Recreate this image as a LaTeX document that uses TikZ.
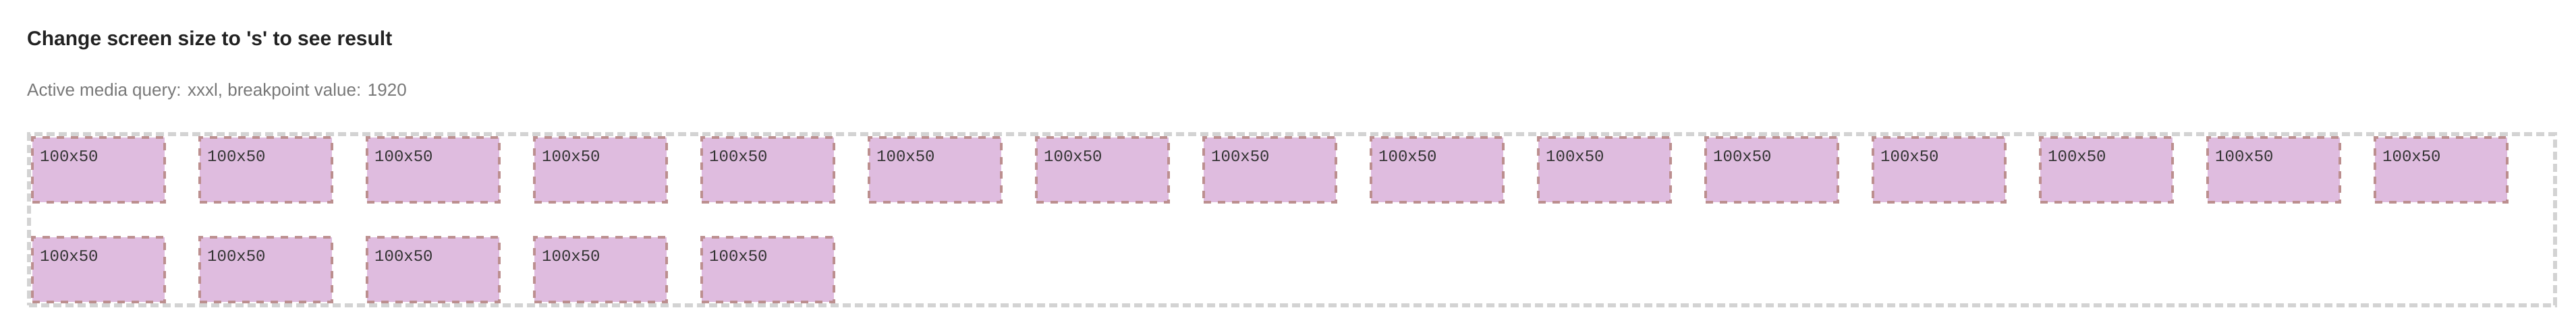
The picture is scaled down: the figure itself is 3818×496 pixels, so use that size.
\documentclass[tikz,border=0pt]{standalone}
\usepackage{fontspec}
\setmainfont{Liberation Sans}
\setmonofont{Liberation Mono}
\definecolor{cellfill}{HTML}{DFBCDF}
\definecolor{cellline}{HTML}{BC8F8F}
\definecolor{frameline}{HTML}{D3D3D3}
\definecolor{titletext}{HTML}{222222}
\definecolor{infotext}{HTML}{777777}
\definecolor{celltext}{HTML}{333333}
\begin{document}
\begin{tikzpicture}[x=1pt,y=-1pt,
    cell/.style={draw=cellline,fill=cellfill,line width=4pt,dash pattern=on 11pt off 10pt,
        minimum width=196pt,minimum height=96pt,inner sep=0,
        label={[anchor=base west,inner sep=0,xshift=13pt,yshift=-37pt,text=celltext,
            font=\ttfamily\fontsize{24}{28}\selectfont]north west:100x50}},
    frame/.style={draw=frameline,line width=6pt,dash pattern=on 12pt off 6pt,
        minimum width=3744pt,minimum height=254pt,inner sep=0},
    heading/.style={anchor=base west,inner sep=0}]
    \def\distance{248}
    \def\rowgap{148}
    \useasboundingbox (0,0) rectangle (3818,496);
        \node[heading,text=titletext,font=\bfseries\fontsize{30}{36}\selectfont] (title) at (40,67)
              {Change screen size to \textquotesingle s\textquotesingle{} to see result};
        \node[heading,text=infotext,font=\fontsize{26}{31}\selectfont] (info) at (40,142)
              {Active media query: xxxl, breakpoint value: 1920};
        \node[frame] (wrap) at (1915,326) {};
        % first row
        \node[cell] (a1) at (146,252) {};
        \foreach \i [remember=\i as \j (initially 1)] in {2,...,15}
            \path (a\j) ++(\distance,0) node[cell] (a\i) {};
        % second row
        \path (a1) ++(0,\rowgap) node[cell] (b1) {};
        \foreach \i [remember=\i as \j (initially 1)] in {2,...,5}
            \path (b\j) ++(\distance,0) node[cell] (b\i) {};
    \end{tikzpicture}
\end{document}
